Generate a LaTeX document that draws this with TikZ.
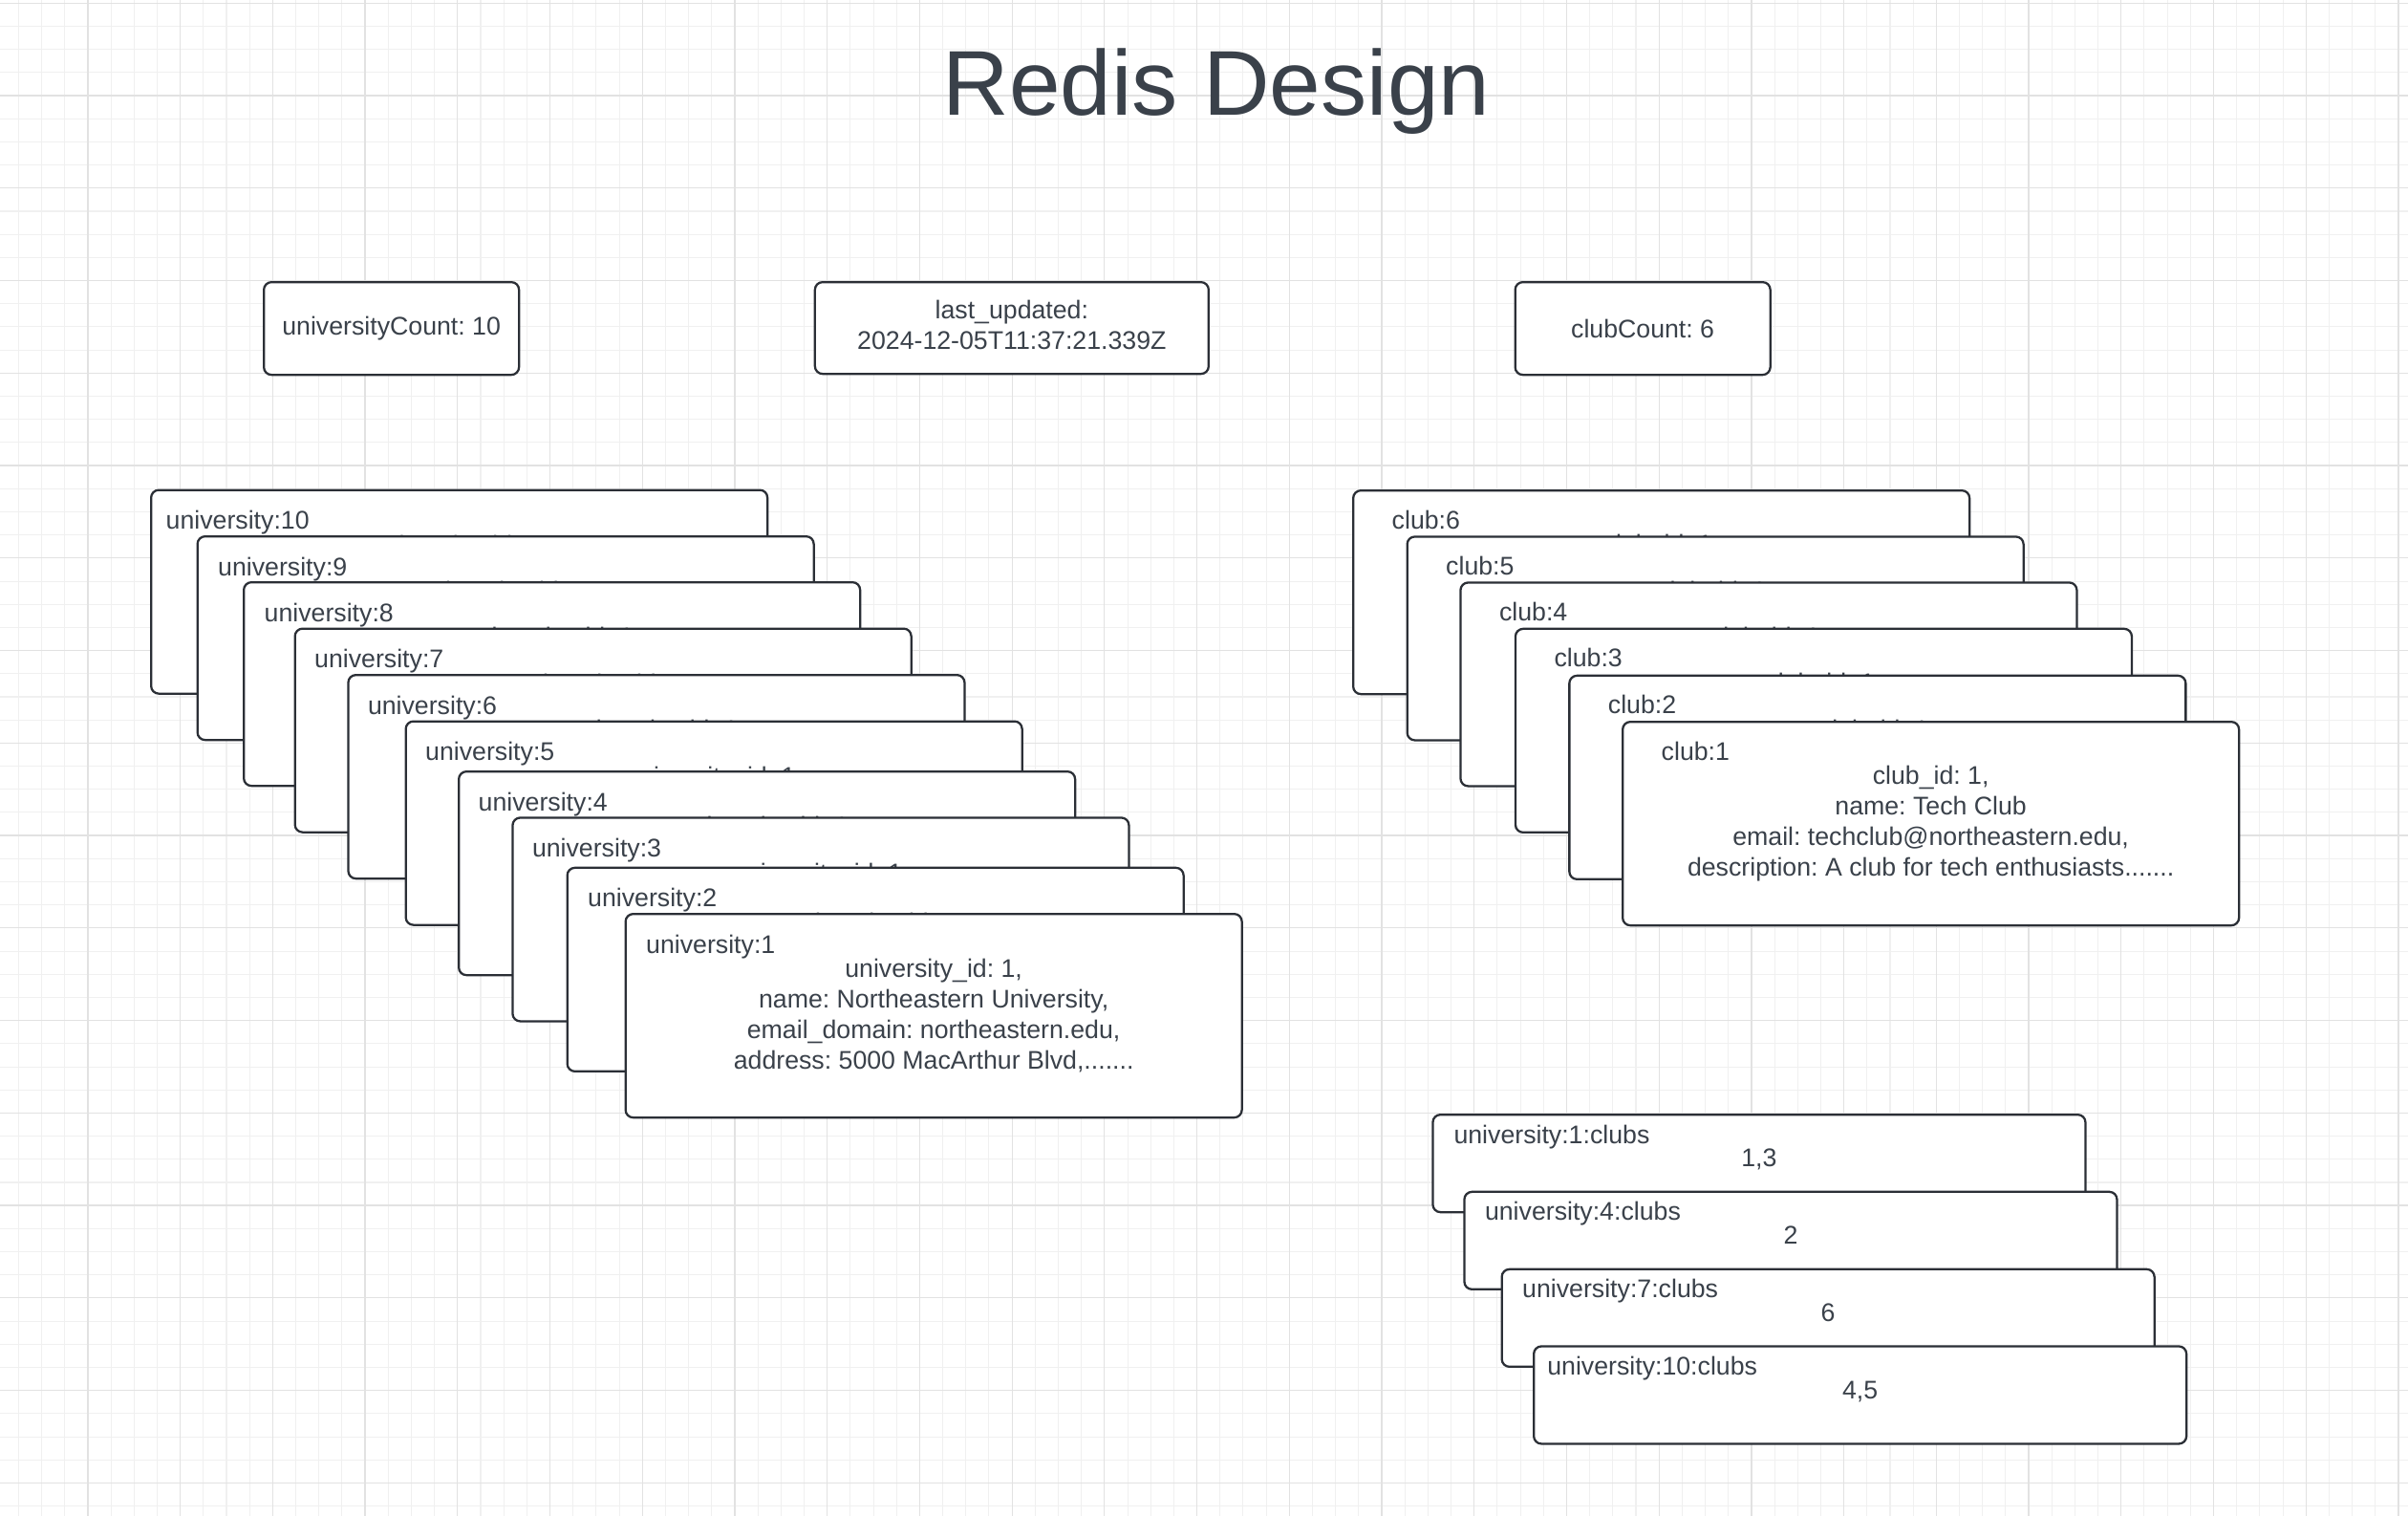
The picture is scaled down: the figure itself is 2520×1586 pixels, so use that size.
\documentclass[tikz,border=0pt]{standalone}
\usepackage{fontspec}
\setmainfont{Liberation Sans}
\usepackage{xcolor}
\usepackage{tikz}
\usetikzlibrary{positioning}
\frenchspacing

\definecolor{inkgrey}{HTML}{3A414A}
\definecolor{edgegrey}{HTML}{2B2F36}
\definecolor{gridminor}{HTML}{F0F0F0}
\definecolor{gridmajor}{HTML}{E2E2E2}

\tikzset{
	gridline/.style={draw=gridminor,line width=0.3pt},
	gridbold/.style={draw=gridmajor,line width=0.35pt},
	card/.style={draw=edgegrey,line width=0.65pt,rounded corners=0.8mm,fill=white,anchor=north west,inner sep=0pt},
	recordcard/.style={card,minimum width=64.5mm,minimum height=21.3mm},
	setcard/.style={card,minimum width=68.3mm,minimum height=10.2mm},
	keytxt/.style={text=inkgrey,font=\fontsize{7.6pt}{9.07pt}\selectfont,inner sep=0pt,anchor=base west},
	valtxt/.style={text=inkgrey,font=\fontsize{7.6pt}{9.07pt}\selectfont,inner sep=0pt,align=center},
	heading/.style={text=inkgrey,font=\fontsize{27.4pt}{33pt}\selectfont,inner sep=0pt,anchor=base}
}

\begin{document}
\begin{tikzpicture}[x=0.1mm,y=-0.1mm]
	\useasboundingbox (0,0) rectangle (2520,1586);
	\fill[white] (0,0) rectangle (2520,1586);
	
	% background grid
	\foreach \k in {1,...,104}
		\draw[gridline] ({-4.8+24.18*\k},0) -- ++(0,1586);
	\foreach \k in {0,...,65}
		\draw[gridline] (0,{3.3+24.19*\k}) -- ++(2520,0);
	\foreach \k in {1,...,26}
		\draw[gridbold] ({-4.8+96.72*\k},0) -- ++(0,1586);
	\foreach \k in {0,...,16}
		\draw[gridbold] (0,{3.3+96.75*\k}) -- ++(2520,0);
	
	\node[heading] (title) at (1273,120) {Redis Design};
	
	% counters
	\node[card,minimum width=26.7mm,minimum height=9.7mm] (ucount) at (275,294) {};
	\node[valtxt] (ucount-txt) at (ucount.center) {universityCount: 10};
	\node[card,minimum width=41.2mm,minimum height=9.6mm] (stamp) at (851.7,294) {};
	\node[valtxt] (stamp-txt) at ([shift={(0,-3)}]stamp.center) {last\_updated:\\2024-12-05T11:37:21.339Z};
	\node[card,minimum width=26.7mm,minimum height=9.7mm] (ccount) at (1584.5,294) {};
	\node[valtxt] (ccount-txt) at (ccount.center) {clubCount: 6};
	
	% university hashes
	\foreach \n/\bx/\by/\dx in {10/157/511.5/16,9/205.5/560/22,8/254/608/22,7/307.5/656.5/21,6/363.3/705/21,
		5/423.5/753.5/21,4/479/806/21,3/535.3/854.3/21,2/592.5/906.7/22,1/653.5/955/22}{
		\node[recordcard] (u\n) at (\bx,\by) {};
		\node[keytxt] (u\n-key) at ([shift={(\dx,42)}]u\n.north west) {university:\n};
		\node[valtxt] (u\n-val) at (u\n.center) {university\_id: 1,\\name: Northeastern University,\\email\_domain: northeastern.edu,\\address: 5000 MacArthur Blvd,.......};
	}
	
	% club hashes
	\foreach \n/\bx/\by in {6/1415/512,5/1471.5/560.3,4/1527.3/608.3,3/1584.8/656.7,2/1641.2/705.7,1/1697/754}{
		\node[recordcard] (c\n) at (\bx,\by) {};
		\node[keytxt] (c\n-key) at ([shift={(41,41)}]c\n.north west) {club:\n};
		\node[valtxt] (c\n-val) at (c\n.center) {club\_id: 1,\\name: Tech Club\\email: techclub@northeastern.edu,\\description: A club for tech enthusiasts.......};
	}
	
	% club sets per university
	\foreach \n/\ids/\bx/\by/\dx in {1/{1,3}/1498.3/1165/22.5,4/2/1531.3/1245.7/22,7/6/1570.5/1326.7/22,10/{4,5}/1604/1407.3/14.6}{
		\node[setcard] (s\n) at (\bx,\by) {};
		\node[keytxt] (s\n-key) at ([shift={(\dx,31)}]s\n.north west) {university:\n:clubs};
		\node[valtxt,anchor=base] (s\n-val) at ([shift={(0,55.7)}]s\n.north) {\ids};
	}
\end{tikzpicture}
\end{document}
